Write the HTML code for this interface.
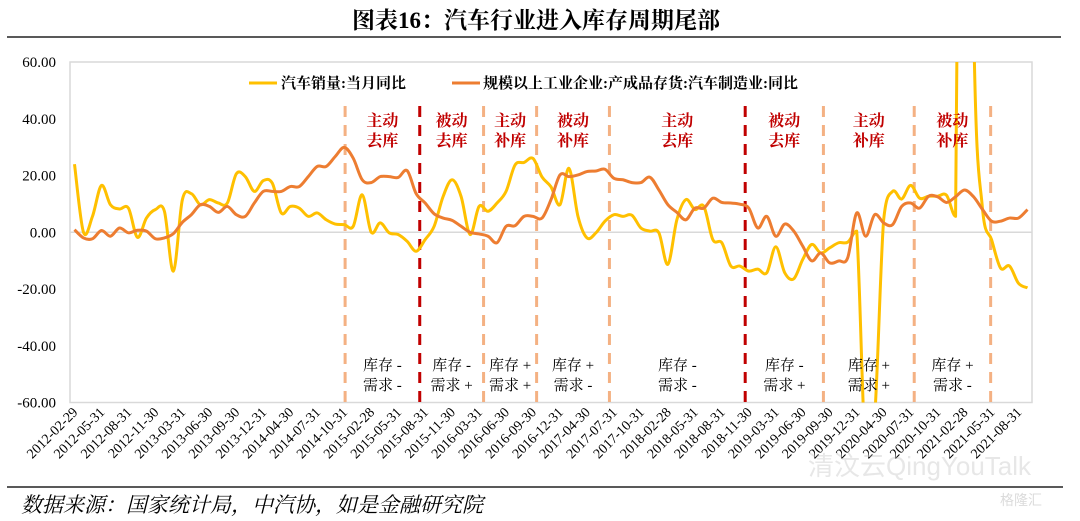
<!DOCTYPE html>
<html><head><meta charset="utf-8">
<style>
body{margin:0;background:#fff;}
svg{display:block;}
</style></head>
<body>
<svg id="chart" width="1080" height="521" xmlns="http://www.w3.org/2000/svg">
  <text x="536" y="28" text-anchor="middle" font-family="'Liberation Serif','Noto Serif CJK SC',serif" font-weight="bold" font-size="23">图表16：汽车行业进入库存周期尾部</text>
  <line x1="7" y1="37" x2="1061" y2="37" stroke="#595959" stroke-width="2"/>
  <rect x="70" y="62" width="962" height="340.5" fill="none" stroke="#d9d9d9" stroke-width="1.5"/>
  <line id="zeroline" x1="70" x2="1032" stroke="#d9d9d9" stroke-width="1.5"/>
  <g id="yaxis"></g>
  <g id="xaxis"></g>
  <g id="dividers"></g>
  <defs><clipPath id="clip"><rect x="70" y="62" width="962" height="340.5"/></clipPath></defs>
  <g id="series" clip-path="url(#clip)"></g>
  <g id="phase-labels"></g>
  <g font-family="'Liberation Serif','Noto Serif CJK SC',serif" font-weight="bold" font-size="15">
    <line x1="249" y1="83" x2="277" y2="83" stroke="#FFC000" stroke-width="3"/>
    <text x="281" y="88">汽车销量:当月同比</text>
    <line x1="452" y1="83" x2="480" y2="83" stroke="#ED7D31" stroke-width="3"/>
    <text x="483" y="88">规模以上工业企业:产成品存货:汽车制造业:同比</text>
  </g>
  <g opacity="0.35" font-family="'Liberation Sans','Noto Sans CJK SC',sans-serif">
    <text x="808" y="475" font-size="26" fill="#bbb">清汶云QingYouTalk</text>
    <text x="1000" y="505" font-size="14" fill="#999">格隆汇</text>
  </g>
  <line x1="7" y1="487" x2="1063" y2="487" stroke="#595959" stroke-width="2"/>
  <text x="21" y="512" font-family="'Liberation Serif','Noto Serif CJK SC',serif" font-style="italic" font-size="21">数据来源：国家统计局，中汽协，如是金融研究院</text>
</svg>
<script>
const salesYoY = [24,0,5.6,16.5,9.7,8.2,8.5,-1.8,5,8,7.4,-13.7,11.5,13.6,9.7,11.5,10.3,10.3,20.6,19.6,14.4,18.2,17.3,6.8,9.1,8.5,5.6,6.8,4.4,2.9,2.7,2.1,13.2,0,3.3,-0.2,-0.8,-3.2,-6.7,-2.6,2.1,12.6,18.5,12.6,-0.8,9.1,7.4,10.3,14.4,23.7,24.6,26,19.5,16,9.7,22.5,5.6,-2,-0.2,3.9,6.2,5.6,6,1.5,0.4,-0.2,-11.3,4.4,11.5,8,9.1,-2.6,-3.7,-11.9,-11.9,-13.7,-13,-14.3,-5.1,-14.3,-16.4,-9.6,-4.3,-7.3,-5.5,-3.7,-3.5,0.4,-79,-65,4.4,14.4,11.7,16.5,12,12.7,12.7,13,5.6,365,75,8,-2.6,-12.6,-11.9,-18,-19.6];
const inventoryYoY = [0.9,-2,-2.3,0.6,-1.4,1.5,-0.2,0.7,0.4,-2.3,-2,-0.5,3.5,6.2,9.7,9.1,7,9.1,6.2,5.6,10.3,14.4,14.4,14.4,16.1,16.1,19.6,23.2,23.2,26.7,29.9,26.1,18.5,17.5,19.6,19.6,19.3,21.7,13.6,10.3,6.5,5,4.2,2.1,0,-0.6,-1.4,-3.7,2.1,2.3,5.6,5.6,5,11.5,20.2,19.6,20.2,21.4,21.6,22.2,19,18.5,17.5,17.5,19.4,14.9,9.7,7,4.4,8.5,8.5,12,10.5,10.3,9.9,8.5,1.5,5.6,-1.4,2.9,0.4,-4.9,-10.1,-7.3,-10.8,-10.1,-9,6.8,-1.4,6.2,3.3,2.7,9.1,10.3,8.5,12.7,12.5,10.5,12.5,14.9,12.5,8,3.9,3.9,5,5,8];
const yTicks = [60,40,20,0,-20,-40,-60];
const tickDates = ["2012-02-29","2012-05-31","2012-08-31","2012-11-30","2013-03-31","2013-06-30","2013-09-30","2013-12-31","2014-04-30","2014-07-31","2014-10-31","2015-02-28","2015-05-31","2015-08-31","2015-11-30","2016-03-31","2016-06-30","2016-09-30","2016-12-31","2017-04-30","2017-07-31","2017-10-31","2018-02-28","2018-05-31","2018-08-31","2018-11-30","2019-03-31","2019-06-30","2019-09-30","2019-12-31","2020-04-30","2020-07-31","2020-10-31","2021-02-28","2021-05-31","2021-08-31"];
const dividerPos = [30.1,38.4,45.5,51.4,59.5,74.6,83.3,93.4,101.9];
const dividerMajor = [false,true,false,false,false,true,false,false,false];
const phaseTop = ["主动","被动","主动","被动","主动","被动","主动","被动"];
const phaseBottom = ["去库","去库","补库","补库","去库","去库","补库","补库"];
const stockLabels = ["库存 -","库存 -","库存 +","库存 +","库存 -","库存 -","库存 +","库存 +"];
const demandLabels = ["需求 -","需求 +","需求 +","需求 -","需求 -","需求 +","需求 +","需求 -"];

const NS="http://www.w3.org/2000/svg";
const L=70,R=1032,T=62,B=402.5,N=107,YMAX=60,YMIN=-60;
const cw=(R-L)/N;
const xAt=i=>L+(i+0.5)*cw;
const yAt=v=>T+(YMAX-v)/(YMAX-YMIN)*(B-T);
function mk(tag,attrs,parent){const e=document.createElementNS(NS,tag);for(const k in attrs)e.setAttribute(k,attrs[k]);parent.appendChild(e);return e;}
const serif="'Liberation Serif','Noto Serif CJK SC',serif";

const zl=document.getElementById('zeroline');zl.setAttribute('y1',yAt(0));zl.setAttribute('y2',yAt(0));

const ya=document.getElementById('yaxis');
yTicks.forEach(v=>{const t=mk('text',{x:56,y:yAt(v)+5,'text-anchor':'end','font-family':serif,'font-size':15},ya);


t.textContent=v.toFixed(2);});

const xa=document.getElementById('xaxis');
tickDates.forEach((d,k)=>{const i=k*3;const x=xAt(i)+4,y=413;
const t=mk('text',{x:x,y:y,'text-anchor':'end','font-family':serif,'font-size':14,transform:`rotate(-45 ${x} ${y})`},xa);


t.textContent=d;});

const dg=document.getElementById('dividers');
dividerPos.forEach((p,k)=>{const x=xAt(p);
const ln=mk('line',{x1:x,x2:x,y1:106,y2:B,stroke:dividerMajor[k]?'#C00000':'#F4B183','stroke-width':3,'stroke-dasharray':'11 8'},dg);

});

function smooth(vals){const p=vals.map((v,i)=>[xAt(i),yAt(v)]);const off=vals.map(v=>v>YMAX||v<YMIN);
let d=`M${p[0][0]},${p[0][1]}`;
for(let i=0;i<p.length-1;i++){const p0=p[Math.max(0,i-1)],p1=p[i],p2=p[i+1],p3=p[Math.min(p.length-1,i+2)];
let c1=[p1[0]+(p2[0]-p0[0])/6,p1[1]+(p2[1]-p0[1])/6],c2=[p2[0]-(p3[0]-p1[0])/6,p2[1]-(p3[1]-p1[1])/6];
const nearOff=off[Math.max(0,i-1)]||off[i]||off[i+1]||off[Math.min(p.length-1,i+2)];
if(nearOff){const lo=Math.min(p1[1],p2[1]),hi=Math.max(p1[1],p2[1]);
c1[1]=Math.min(hi,Math.max(lo,c1[1]));c2[1]=Math.min(hi,Math.max(lo,c2[1]));}
d+=` C${c1[0]},${c1[1]} ${c2[0]},${c2[1]} ${p2[0]},${p2[1]}`;}return d;}
const sg=document.getElementById('series');
const ps=mk('path',{d:smooth(salesYoY),fill:'none',stroke:'#FFC000','stroke-width':3,'stroke-linejoin':'round'},sg);


const pi=mk('path',{d:smooth(inventoryYoY),fill:'none',stroke:'#ED7D31','stroke-width':3,'stroke-linejoin':'round'},sg);



const pg=document.getElementById('phase-labels');
const bounds=dividerPos;
for(let k=0;k<8;k++){const cx=(xAt(bounds[k])+xAt(bounds[k+1]))/2;
const a=mk('text',{x:cx,y:126,'text-anchor':'middle','font-family':serif,'font-weight':'bold','font-size':16,fill:'#C00000'},pg);


a.textContent=phaseTop[k];
const b=mk('text',{x:cx,y:146,'text-anchor':'middle','font-family':serif,'font-weight':'bold','font-size':16,fill:'#C00000'},pg);


b.textContent=phaseBottom[k];
const c=mk('text',{x:cx,y:370,'text-anchor':'middle','font-family':serif,'font-size':15,fill:'#000'},pg);


c.textContent=stockLabels[k];
const e=mk('text',{x:cx,y:390,'text-anchor':'middle','font-family':serif,'font-size':15,fill:'#000'},pg);


e.textContent=demandLabels[k];}
</script>
</body></html>
